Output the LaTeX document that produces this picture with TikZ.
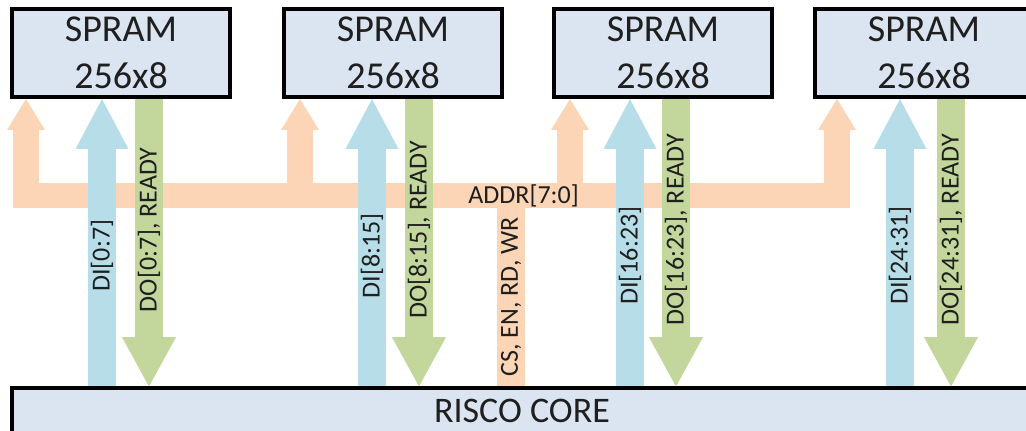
\documentclass[tikz,border=0pt]{standalone}
\usepackage{fontspec}
\setmainfont{Carlito}
\usetikzlibrary{arrows.meta}
\definecolor{ramfill}{HTML}{DBE5F1}
\definecolor{addrcol}{HTML}{FBD5B5}
\definecolor{dincol}{HTML}{B7DEE8}
\definecolor{doutcol}{HTML}{C3D69B}

\begin{document}
\begin{tikzpicture}[x=0.75pt,y=-0.75pt,
    every node/.style={font=\fontsize{19.5}{22}\selectfont,text=black!88},
    ram/.style={draw,line width=3pt,fill=ramfill,minimum width=163.5pt,
      minimum height=66pt,inner sep=0pt,align=center,
      font=\fontsize{28.5}{35}\selectfont},
    core/.style={draw,line width=3pt,fill=ramfill,minimum width=765pt,
      minimum height=33.75pt,inner sep=0pt,font=\fontsize{27}{30}\selectfont},
    addrline/.style={addrcol,line width=19.5pt},
    addrarrow/.style={addrline,-{Triangle[width=28.5pt,length=23.25pt,line width=0pt]}},
    dinarrow/.style={dincol,line width=21pt,-{Triangle[width=39.75pt,length=37.5pt,line width=0pt]}},
    doutarrow/.style={doutcol,line width=21pt,-{Triangle[width=40.5pt,length=37pt,line width=0pt]}},
    sig/.style={rotate=90,pos=0.455}]
  \useasboundingbox (0,0) rectangle (1026,431);
  \clip (0,0) rectangle (1026,431);
  % memories and core
  \foreach \i/\x in {1/121,2/393,3/663,4/924}
    \node[ram] (ram\i) at (\x,53) {SPRAM\\256x8};
  \node[core] (core) at (522,411) {RISCO CORE};
  % address bus
  \coordinate (busl) at (13,195.5);
  \coordinate (busr) at (850,195.5);
  \coordinate (ctl) at (511,195.5);
  \draw[addrline,line width=21pt] (core.north -| ctl) -- (ctl)
     node[rotate=90,pos=0.47,text=black!88]{CS, EN, RD, WR};
  \foreach \i/\xa in {1/26,2/300,3/570,4/837} {
    \coordinate (ab\i) at (\xa,195.5);
    \draw[addrarrow] (ab\i) -- (ram\i.south -| ab\i);
  }
  \draw[addrcol,line width=18.75pt] (busl) -- (busr)
     node[pos=0.61,text=black!88]{ADDR[7:0]};
  % data buses
  \foreach \i/\xi/\xo/\lo/\hi in {1/102/149/0/7,2/372/419/8/15,3/630/676/16/23,4/900/951/24/31} {
    \coordinate (di\i) at (\xi,0);
    \coordinate (do\i) at (\xo,0);
    \draw[dinarrow] (core.north -| di\i) -- (ram\i.south -| di\i)
       node[sig,text=black!88]{DI[\lo:\hi]};
    \draw[doutarrow] (ram\i.south -| do\i) -- (core.north -| do\i)
       node[sig,text=black!88]{DO[\lo:\hi], READY};
  }
\end{tikzpicture}
\end{document}
